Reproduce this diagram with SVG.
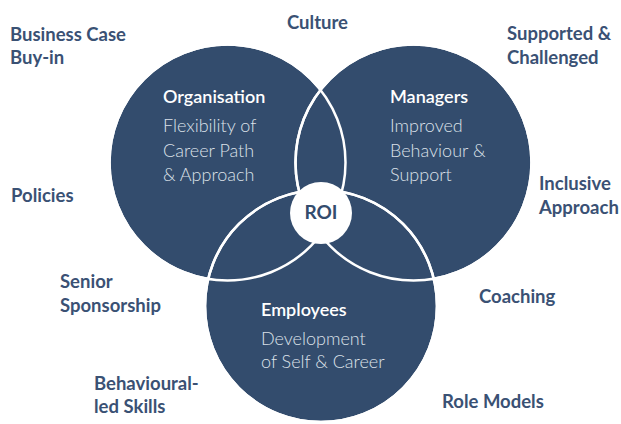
<svg xmlns="http://www.w3.org/2000/svg" width="621" height="424" viewBox="0 0 621 424">
<style>
.c{fill:#334C6D;stroke:#ffffff;stroke-width:2.5}
.o{fill:none;stroke:#ffffff;stroke-width:2.5}
.lbl{font-family:Lato,"Open Sans",sans-serif;font-weight:700;font-size:18.5px;fill:#3A5174}
.h{font-family:Lato,"Open Sans",sans-serif;font-weight:600;font-size:18px;fill:#ffffff}
.b{font-family:Lato,"Open Sans",sans-serif;font-weight:300;font-size:18px;fill:#DCE1E9}
.roi{font-family:Lato,"Open Sans",sans-serif;font-weight:700;font-size:19px;fill:#334C6D;text-anchor:middle}
</style>
<rect width="621" height="424" fill="#ffffff"/>
<g id="organisation">
<circle class="c" cx="227.5" cy="162.5" r="118"/>
</g>
<g id="managers">
<circle class="c" cx="413.5" cy="162.5" r="118"/>
</g>
<g id="employees">
<circle class="c" cx="321" cy="306" r="116"/>
</g>
<g id="connectors">
<circle class="o" cx="227.5" cy="162.5" r="118"/>
<circle class="o" cx="413.5" cy="162.5" r="118"/>
<circle class="o" cx="321" cy="306" r="116"/>
</g>
<g id="roi">
<circle cx="321" cy="213" r="31" fill="#ffffff"/>
<text class="roi" x="321" y="219">ROI</text>
</g>
<g id="organisation-text">
<text class="h" x="163" y="103">Organisation</text>
<text class="b" x="163" y="132">Flexibility of</text>
<text class="b" x="163" y="157">Career Path</text>
<text class="b" x="163" y="181">&amp; Approach</text>
</g>
<g id="managers-text">
<text class="h" x="390" y="103">Managers</text>
<text class="b" x="390" y="132">Improved</text>
<text class="b" x="390" y="157">Behaviour &amp;</text>
<text class="b" x="390" y="181">Support</text>
</g>
<g id="employees-text">
<text class="h" x="261" y="316">Employees</text>
<text class="b" x="261" y="345">Development</text>
<text class="b" x="261" y="368">of Self &amp; Career</text>
</g>
<g id="labels">
<text class="lbl" x="10" y="41">Business Case</text>
<text class="lbl" x="10" y="64">Buy-in</text>
<text class="lbl" x="287" y="29">Culture</text>
<text class="lbl" x="507" y="40">Supported &amp;</text>
<text class="lbl" x="507" y="64">Challenged</text>
<text class="lbl" x="539" y="190">Inclusive</text>
<text class="lbl" x="539" y="214">Approach</text>
<text class="lbl" x="11" y="202">Policies</text>
<text class="lbl" x="60" y="288">Senior</text>
<text class="lbl" x="60" y="312">Sponsorship</text>
<text class="lbl" x="94" y="390">Behavioural-</text>
<text class="lbl" x="94" y="413">led Skills</text>
<text class="lbl" x="479" y="303">Coaching</text>
<text class="lbl" x="442" y="408">Role Models</text>
</g>
</svg>
